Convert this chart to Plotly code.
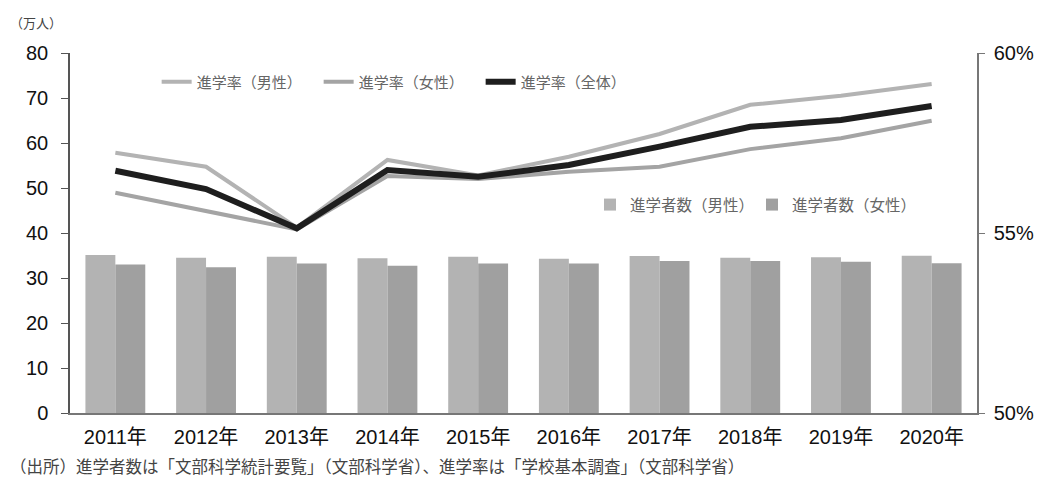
import plotly.graph_objects as go

years = ["2011年", "2012年", "2013年", "2014年", "2015年", "2016年", "2017年", "2018年", "2019年", "2020年"]
students_male = [35.1, 34.5, 34.7, 34.4, 34.7, 34.3, 34.9, 34.5, 34.6, 34.95]
students_female = [33.0, 32.4, 33.2, 32.7, 33.2, 33.2, 33.8, 33.8, 33.6, 33.3]
rate_male = [57.23, 56.84, 55.15, 57.03, 56.6, 57.12, 57.75, 58.56, 58.81, 59.14]
rate_female = [56.12, 55.62, 55.1, 56.58, 56.5, 56.7, 56.84, 57.33, 57.63, 58.12]
rate_total = [56.73, 56.22, 55.13, 56.75, 56.56, 56.89, 57.4, 57.95, 58.14, 58.53]

JP = "Noto Sans CJK JP"
NUM = "Liberation Sans, Arial, Noto Sans CJK JP, sans-serif"

# the page body has an 8px margin; plot area targeted at x 70..977, y 53..413 on screen
W, H = 1042, 479
ML, MR, MT, MB = 62, 73, 45, 74
PW = 977 - 70
PH = 413 - 53

def px(xs):
    return (xs - 70) / PW

def py(ys):
    return (413 - ys) / PH

fig = go.Figure()
fig.add_trace(go.Bar(x=years, y=students_male, name="進学者数（男性）", marker_color="#b3b3b3",
                     marker_line_width=0, legend="legend2", yaxis="y"))
fig.add_trace(go.Bar(x=years, y=students_female, name="進学者数（女性）", marker_color="#a0a0a0",
                     marker_line_width=0, legend="legend2", yaxis="y"))
fig.add_trace(go.Scatter(x=years, y=rate_male, name="進学率（男性）", mode="lines",
                         line=dict(color="#b3b3b3", width=4), yaxis="y2", legend="legend"))
fig.add_trace(go.Scatter(x=years, y=rate_female, name="進学率（女性）", mode="lines",
                         line=dict(color="#a4a4a4", width=4), yaxis="y2", legend="legend"))
fig.add_trace(go.Scatter(x=years, y=rate_total, name="進学率（全体）", mode="lines",
                         line=dict(color="#1e1e1e", width=6), yaxis="y2", legend="legend"))

fig.update_layout(
    width=W, height=H,
    margin=dict(l=ML, r=MR, t=MT, b=MB),
    paper_bgcolor="white", plot_bgcolor="white",
    barmode="group", bargap=0.34, bargroupgap=0,
    font=dict(family=JP, color="#222"),
    xaxis=dict(showline=True, linecolor="#777", linewidth=1.5, ticks="",
               ticklabelstandoff=5,
               tickfont=dict(family=NUM, size=20, color="#111"), showgrid=False),
    yaxis=dict(range=[0, 80], dtick=10, showline=True, linecolor="#555", linewidth=1.5,
               ticks="outside", ticklen=7, tickcolor="#555", showgrid=False, zeroline=False,
               ticklabelstandoff=9,
               tickfont=dict(family=NUM, size=20, color="#111")),
    yaxis2=dict(range=[50, 60], dtick=5, ticksuffix="%", overlaying="y", side="right",
                showline=True, linecolor="#777", linewidth=1.5, ticks="outside", ticklen=6,
                tickcolor="#777", showgrid=False, zeroline=False, ticklabelstandoff=5,
                tickfont=dict(family=NUM, size=20, color="#111")),
    legend=dict(orientation="h", x=px(202) - 0.05, y=py(82), xanchor="left", yanchor="middle",
                font=dict(family=JP, size=15, color="#666"), bgcolor="rgba(0,0,0,0)",
                entrywidth=117, itemwidth=30, traceorder="normal"),
    legend2=dict(orientation="h", x=px(590), y=py(205), xanchor="left", yanchor="middle",
                 font=dict(family=JP, size=15.5, color="#666"), bgcolor="rgba(0,0,0,0)",
                 entrywidth=117, itemwidth=30, traceorder="normal"),
    showlegend=True,
)

fig.add_annotation(text="（万人）", xref="paper", yref="paper", x=px(8), y=py(22),
                   xanchor="left", yanchor="middle", showarrow=False,
                   font=dict(family=JP, size=13, color="#444"))
fig.add_annotation(text="（出所）進学者数は「文部科学統計要覧」（文部科学省）、進学率は「学校基本調査」（文部科学省）",
                   xref="paper", yref="paper", x=px(8), y=py(466),
                   xanchor="left", yanchor="middle", showarrow=False,
                   font=dict(family=JP, size=16.5, color="#444"))

fig.write_html("out.html")
